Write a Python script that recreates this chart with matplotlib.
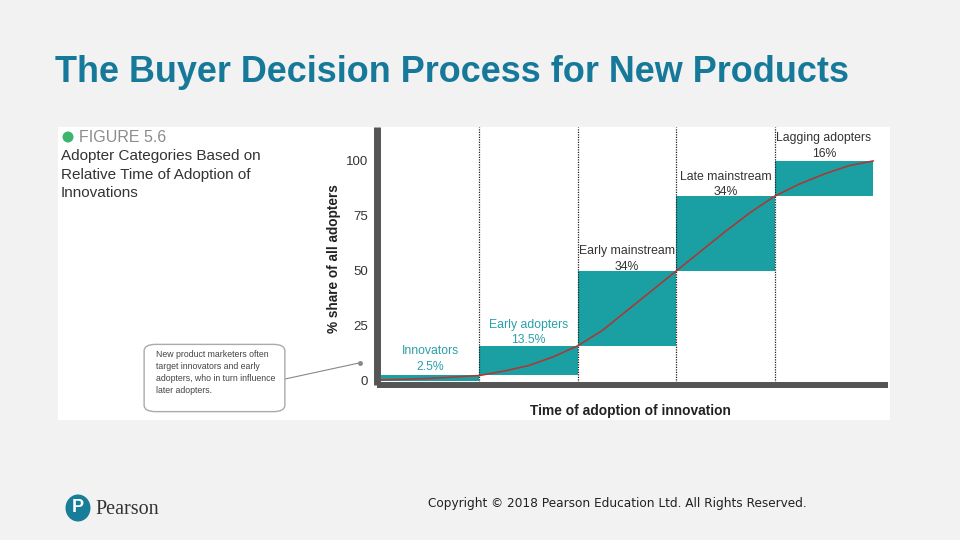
import numpy as np
import matplotlib.pyplot as plt
from matplotlib.patches import FancyBboxPatch, Rectangle, Ellipse
from matplotlib.lines import Line2D

# Adopter categories and their share of all adopters (%)
categories = ["Innovators", "Early adopters", "Early mainstream", "Late mainstream", "Lagging adopters"]
shares = [2.5, 13.5, 34, 34, 16]
share_labels = ["2.5%", "13.5%", "34%", "34%", "16%"]

# Cumulative adoption curve
curve_x = [0, 0.25, 0.5, 0.75, 1, 1.25, 1.5, 1.75, 2, 2.25, 2.5, 2.75, 3,
           3.25, 3.5, 3.75, 4, 4.25, 4.5, 4.75, 5]
curve_y = [0.5, 0.8, 1.2, 1.8, 2.5, 4.5, 7, 11, 16, 23, 32, 41, 50,
           59, 68, 76.5, 84, 89.5, 94, 97.8, 100]

y_ticks = [0, 25, 50, 75, 100]

TEAL = "#1aa0a3"
TEAL_TXT = "#2aa0a8"
DARK = "#555555"

W, H = 960, 540


def fx(px):
    return px / W


def fy(py):
    return 1 - py / H


fig = plt.figure(figsize=(9.6, 5.4), dpi=100, facecolor="#f2f2f2")
plt.rcParams['font.family'] = ['Liberation Sans', 'DejaVu Sans']

# white figure panel (behind the axes)
fig.patches.append(Rectangle((fx(58), fy(420)), fx(890) - fx(58), fy(127) - fy(420),
                             transform=fig.transFigure, facecolor="white",
                             edgecolor="none", zorder=-5))

fig.text(fx(55), fy(73), "The Buyer Decision Process for New Products",
         fontsize=25.9, fontweight="bold", color="#16799a", va="center", ha="left")

# figure caption
fig.patches.append(Ellipse((fx(68), fy(137)), 11 / W, 11 / H, transform=fig.transFigure,
                           facecolor="#3db56e", edgecolor="none", zorder=2))
fig.text(fx(79), fy(137), "FIGURE 5.6", fontsize=11.5, color="#8c8c8c",
         va="center", ha="left")
fig.text(fx(61), fy(149), "Adopter Categories Based on\nRelative Time of Adoption of\nInnovations",
         fontsize=11, color="#333333", va="top", ha="left", linespacing=1.42)

# chart axes
ax = fig.add_axes([fx(376.5), fy(385), fx(888) - fx(376.5), fy(127) - fy(385)])
ax.set_facecolor("none")
ax.set_xlim(-0.046, 5.152)
ax.set_ylim(-1.82, 115.45)

cum = np.cumsum(shares)
bottoms = cum - np.array(shares)
xs = np.arange(len(shares))
ax.bar(xs, shares, width=1, bottom=bottoms, align="edge", color=TEAL, zorder=2)

for b in xs[1:]:
    ax.axvline(b, color="#222222", lw=0.9, ls=(0, (1, 1)), zorder=3)

ax.plot(curve_x, curve_y, color="#a83a3a", lw=1.2, zorder=4)

label_pad = [1.2, -0.3, -0.8, -0.8, 0.6]
label_colors = [TEAL_TXT, TEAL_TXT, "#333333", "#333333", "#333333"]
for i, (cat, lab) in enumerate(zip(categories, share_labels)):
    ax.text(i + 0.5, cum[i] + label_pad[i], f"{cat}\n{lab}", ha="center", va="bottom",
            fontsize=8.8, color=label_colors[i], linespacing=1.38, zorder=5)

for s in ["top", "right"]:
    ax.spines[s].set_visible(False)
for s, lw in [("left", 5), ("bottom", 4.3)]:
    ax.spines[s].set_linewidth(lw)
    ax.spines[s].set_color(DARK)
    ax.spines[s].set_capstyle("butt")
    ax.spines[s].set_zorder(6)
ax.set_xticks([])
ax.set_yticks(y_ticks)
ax.tick_params(axis="y", length=0, pad=6, labelsize=9.5, labelcolor="#333333")

fig.text(fx(334), fy(259), "% share of all adopters", rotation=90, fontsize=9.8,
         fontweight="bold", color="#222222", va="center", ha="center")
fig.text(fx(630), fy(411), "Time of adoption of innovation", fontsize=9.9,
         fontweight="bold", color="#222222", va="center", ha="center")

# callout box
fig.patches.append(FancyBboxPatch((fx(147), fy(410)), fx(282) - fx(147), fy(346) - fy(410),
                                  boxstyle="round,pad=0.003,rounding_size=0.012",
                                  transform=fig.transFigure, facecolor="white",
                                  edgecolor="#aaaaaa", lw=1, zorder=2))
fig.text(fx(156), fy(350), "New product marketers often\ntarget innovators and early\n"
         "adopters, who in turn influence\nlater adopters.",
         fontsize=6.3, color="#444444", va="top", ha="left", linespacing=1.45)
fig.lines.append(Line2D([fx(285), fx(359)], [fy(379), fy(363)], transform=fig.transFigure,
                        color="#888888", lw=0.8))
fig.lines.append(Line2D([fx(360)], [fy(363)], transform=fig.transFigure, marker="o",
                        markersize=2.5, color="#888888"))

# footer
fig.patches.append(Ellipse((fx(78), fy(508)), 25 / W, 27 / H, transform=fig.transFigure,
                           facecolor="#177d98", edgecolor="none", zorder=2))
fig.text(fx(78), fy(508), "P", fontsize=13, fontweight="bold", color="white",
         ha="center", va="center", zorder=3)
fig.text(fx(95), fy(509), "Pearson", fontsize=14.5, family="Liberation Serif",
         color="#333333", ha="left", va="center")
fig.text(fx(428), fy(504), "Copyright \u00a9 2018 Pearson Education Ltd. All Rights Reserved.",
         fontsize=8.7, family="DejaVu Sans", color="#222222", ha="left", va="center")

fig.savefig("out.png", dpi=100, facecolor=fig.get_facecolor())
